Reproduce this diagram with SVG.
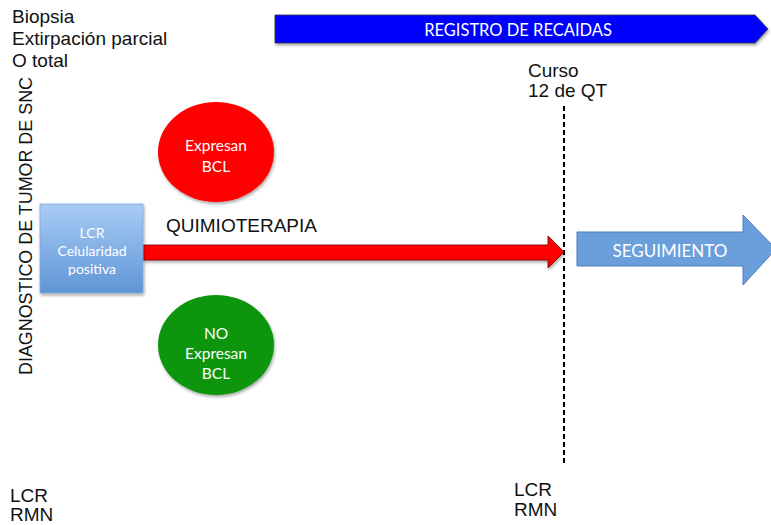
<svg xmlns="http://www.w3.org/2000/svg" width="771" height="525" viewBox="0 0 771 525">
<style>
.t{font-family:"Liberation Sans",Arial,sans-serif;fill:#111;font-size:19px}
.w{font-family:Lato,"Open Sans",sans-serif;fill:#fff;text-anchor:middle}
</style>
<defs>
<linearGradient id="bg" x1="0" y1="0" x2="0" y2="1">
<stop offset="0" stop-color="#a9ccf5"/><stop offset="1" stop-color="#5f95d6"/>
</linearGradient>
<filter id="sh" x="-10%" y="-10%" width="130%" height="130%">
<feDropShadow dx="1" dy="2" stdDeviation="1.5" flood-color="#000" flood-opacity="0.35"/>
</filter>
</defs>
<rect width="771" height="525" fill="#fff"/>
<g id="labels">
<text class="t" x="12" y="23">Biopsia</text>
<text class="t" x="12" y="45">Extirpación parcial</text>
<text class="t" x="12" y="67">O total</text>
<text class="t" transform="translate(32,375) rotate(-90)" font-size="17.5" textLength="298" lengthAdjust="spacingAndGlyphs">DIAGNOSTICO DE TUMOR DE SNC</text>
<text class="t" x="528" y="77">Curso</text>
<text class="t" x="528" y="97">12 de QT</text>
<text class="t" x="166" y="232">QUIMIOTERAPIA</text>
<text class="t" x="10" y="502">LCR</text>
<text class="t" x="10" y="521">RMN</text>
<text class="t" x="514" y="496">LCR</text>
<text class="t" x="514" y="516">RMN</text>
</g>
<g id="registro">
<polygon points="275,15 755,15 768,29 755,43 275,43" fill="#0000ff" stroke="#333" stroke-width="0.8" filter="url(#sh)"/>
<text class="w" x="518" y="36" font-size="16.5">REGISTRO DE RECAIDAS</text>
</g>
<g id="connectors">
<line x1="564" y1="106" x2="564" y2="465" stroke="#000" stroke-width="2" stroke-dasharray="5,3"/>
<polygon points="143,245 548,245 548,236 564,252 548,268 548,260 143,260" fill="#ff0000" stroke="#7a0000" stroke-width="0.8" filter="url(#sh)"/>
</g>
<g id="lcr">
<rect x="40" y="204" width="103" height="89" fill="url(#bg)" stroke="#7fa8d8" stroke-width="0.8" filter="url(#sh)"/>
<text class="w" x="92" y="238" font-size="14">LCR</text>
<text class="w" x="92" y="256" font-size="14">Celularidad</text>
<text class="w" x="92" y="274" font-size="14">positiva</text>
</g>
<g id="expresan">
<ellipse cx="216" cy="152" rx="58" ry="50" fill="#ff0000" filter="url(#sh)"/>
<text class="w" x="216" y="151" font-size="15.5">Expresan</text>
<text class="w" x="216" y="172" font-size="15.5">BCL</text>
</g>
<g id="noexpresan">
<ellipse cx="216" cy="345" rx="58" ry="50" fill="#0a960e" filter="url(#sh)"/>
<text class="w" x="216" y="339" font-size="15.5">NO</text>
<text class="w" x="216" y="359" font-size="15.5">Expresan</text>
<text class="w" x="216" y="379" font-size="15.5">BCL</text>
</g>
<g id="seguimiento">
<polygon points="577,232 743,232 743,215 776,249 743,285 743,266 577,266" fill="#6a9fdc" stroke="#4b7cbf" stroke-width="1"/>
<text class="w" x="670" y="257" font-size="17">SEGUIMIENTO</text>
</g>
</svg>
